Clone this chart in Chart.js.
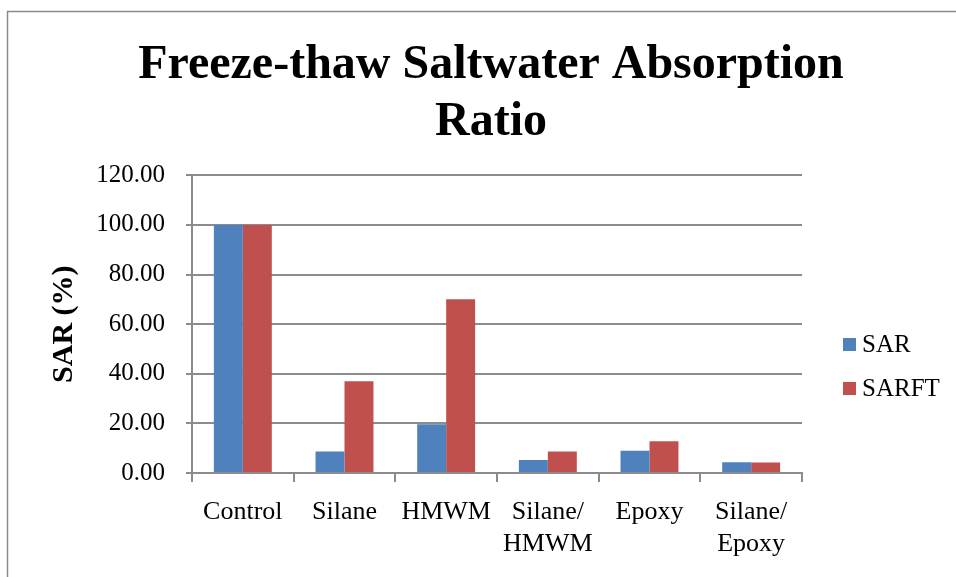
<!DOCTYPE html>
<html>
<head>
<meta charset="utf-8">
<script src="https://cdn.jsdelivr.net/npm/chart.js@4/dist/chart.umd.min.js"></script>
<style>
  html, body { margin: 0; padding: 0; background: #fff; }
  #wrap { width: 956px; height: 577px; }
</style>
</head>
<body>
<div id="wrap"><canvas id="chart" width="956" height="577"></canvas></div>
<script>
// data
const categories = ['Control', 'Silane', 'HMWM', ['Silane/', 'HMWM'], 'Epoxy', ['Silane/', 'Epoxy']];
const sarValues = [100, 8.7, 19.7, 5.2, 9.0, 4.3];
const sarftValues = [100, 37.0, 70.0, 8.7, 12.8, 4.2];
const seriesNames = ['SAR', 'SARFT'];
const yMin = 0, yMax = 120, yStep = 20;

const serif = "'Liberation Serif', 'Times New Roman', serif";
const gridGray = '#8c8c8c';

// outer frame + legend drawn by hand (Excel style placement)
const excelBits = {
  id: 'excelBits',
  beforeDraw(chart) {
    const ctx = chart.ctx;
    ctx.save();
    ctx.strokeStyle = '#8a8a8a';
    ctx.lineWidth = 1.5;
    ctx.beginPath();
    ctx.moveTo(7.5, chart.height);
    ctx.lineTo(7.5, 11.5);
    ctx.lineTo(chart.width, 11.5);
    ctx.stroke();
    ctx.restore();
  },
  afterDraw(chart) {
    const ctx = chart.ctx;
    const area = chart.chartArea;
    ctx.save();
    ctx.font = '25px ' + serif;
    ctx.textBaseline = 'middle';
    ctx.fillStyle = '#000';
    chart.data.datasets.forEach((ds, i) => {
      const x = area.right + 41;
      const y = 344.5 + i * 44;
      ctx.fillStyle = ds.backgroundColor;
      ctx.fillRect(x, y - 6.5, 13, 13);
      ctx.fillStyle = '#000';
      ctx.fillText(ds.label, x + 19, y + 1);
    });
    ctx.restore();
  }
};

const ctx = document.getElementById('chart').getContext('2d');
new Chart(ctx, {
  type: 'bar',
  data: {
    labels: categories,
    datasets: [
      { label: seriesNames[0], data: sarValues, backgroundColor: '#4F81BD', borderWidth: 0 },
      { label: seriesNames[1], data: sarftValues, backgroundColor: '#C0504D', borderWidth: 0 }
    ]
  },
  options: {
    responsive: false,
    animation: false,
    events: [],
    layout: { padding: { left: 26, right: 0, top: 11, bottom: 0 } },
    datasets: { bar: { categoryPercentage: 0.57, barPercentage: 1.0 } },
    plugins: {
      legend: { display: false },
      tooltip: { enabled: false },
      title: {
        display: true,
        text: ['Freeze-thaw Saltwater Absorption', 'Ratio'],
        color: '#000',
        font: { family: serif, size: 48, weight: 'bold', lineHeight: 1.17 },
        padding: { top: 27, bottom: 25 }
      }
    },
    scales: {
      x: {
        grid: { display: true, drawOnChartArea: false, drawTicks: true, tickLength: 9, color: gridGray, lineWidth: 2, offset: true },
        border: { display: true, color: gridGray, width: 2 },
        ticks: { color: '#000', font: { family: serif, size: 26, lineHeight: 1.2 }, padding: 15, maxRotation: 0, autoSkip: false },
        afterFit(s) { s.height = 104; }
      },
      y: {
        min: yMin,
        max: yMax,
        grid: { color: gridGray, lineWidth: 2, tickLength: 6 },
        border: { display: true, color: gridGray, width: 2 },
        ticks: {
          stepSize: yStep,
          color: '#000',
          padding: 21,
          font: { family: serif, size: 25 },
          callback: v => v.toFixed(2)
        },
        title: {
          display: true,
          text: 'SAR (%)',
          color: '#000',
          font: { family: serif, size: 30, weight: 'bold' },
          padding: { top: 20, bottom: 0 }
        },
        afterFit(s) { s.width = 166; }
      },
      legendSpace: {
        type: 'linear',
        position: 'right',
        display: true,
        grid: { display: false },
        border: { display: false },
        ticks: { display: false },
        afterFit(s) { s.width = 154; }
      }
    }
  },
  plugins: [excelBits]
});
</script>
</body>
</html>
